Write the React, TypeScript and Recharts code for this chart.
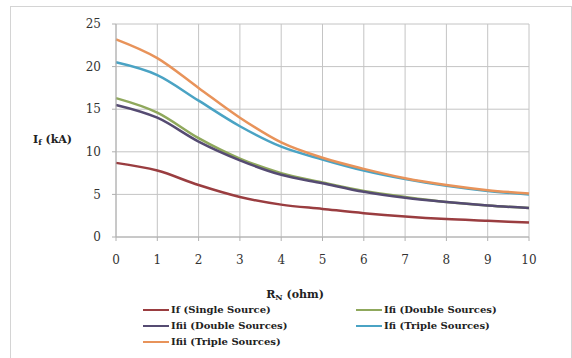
import { LineChart, Line, XAxis, YAxis, CartesianGrid } from 'recharts';

const resistance = [0, 1, 2, 3, 4, 5, 6, 7, 8, 9, 10];
const singleIf = [8.7, 7.8, 6.1, 4.7, 3.8, 3.3, 2.8, 2.4, 2.1, 1.9, 1.7];
const doubleIfi = [16.3, 14.6, 11.6, 9.2, 7.5, 6.4, 5.4, 4.7, 4.1, 3.7, 3.4];
const doubleIfii = [15.5, 14.0, 11.2, 9.0, 7.3, 6.3, 5.3, 4.6, 4.1, 3.7, 3.4];
const tripleIfi = [20.5, 19.0, 16.0, 13.0, 10.6, 9.1, 7.8, 6.8, 6.0, 5.4, 5.0];
const tripleIfii = [23.2, 21.0, 17.5, 14.0, 11.1, 9.3, 8.0, 6.9, 6.1, 5.5, 5.1];
const yTicks = [0, 5, 10, 15, 20, 25];

const series = [
  { key: 'If', name: 'If (Single Source)', values: singleIf, color: '#9a3d40' },
  { key: 'IfiD', name: 'Ifi (Double Sources)', values: doubleIfi, color: '#8fa85c' },
  { key: 'IfiiD', name: 'Ifii (Double Sources)', values: doubleIfii, color: '#554b72' },
  { key: 'IfiT', name: 'Ifi (Triple Sources)', values: tripleIfi, color: '#4aa3c4' },
  { key: 'IfiiT', name: 'Ifii (Triple Sources)', values: tripleIfii, color: '#e8935a' },
];

const data = resistance.map((r, i) => {
  const row: Record<string, number> = { r };
  series.forEach((s) => (row[s.key] = s.values[i]));
  return row;
});

// serif face like the Times of the original
const serif = 'DejaVu Serif';

const YLabel = (props: any) => {
  const { viewBox } = props;
  return (
    <text x={viewBox.x + 22} y={viewBox.y + 116} fontFamily={serif} fontWeight="bold" fontSize={11} fill="#222" dominantBaseline="middle">
      I<tspan fontSize={8} dy={3}>f</tspan>
      <tspan dy={-3}> (kA)</tspan>
    </text>
  );
};

const XLabel = (props: any) => {
  const { viewBox } = props;
  return (
    <text x={viewBox.x + 179} y={viewBox.y + 58} textAnchor="middle" fontFamily={serif} fontWeight="bold" fontSize={11} fill="#222" dominantBaseline="middle">
      R<tspan fontSize={8} dy={3}>N</tspan>
      <tspan dy={-3}> (ohm)</tspan>
    </text>
  );
};

const legendPos = [
  { left: 132, top: 297 },
  { left: 345, top: 297 },
  { left: 132, top: 313 },
  { left: 345, top: 313 },
  { left: 132, top: 329 },
];

const tickStyle = { fontFamily: serif, fontSize: 12, fill: '#333' };

export default function App() {
  return (
    <div
      style={{
        position: 'absolute',
        left: 10,
        top: 6,
        width: 560,
        height: 360,
        border: '1px solid #d4d4d4',
        background: '#fff',
      }}
    >
      <LineChart width={560} height={352} data={data} margin={{ top: 17, right: 42, bottom: 62, left: 0 }}>
        <CartesianGrid stroke="#c4c4c4" strokeWidth={1} />
        <XAxis
          dataKey="r"
          type="number"
          domain={[0, 10]}
          ticks={resistance}
          height={60}
          tickSize={4}
          tickMargin={14}
          axisLine={{ stroke: '#b0b0b0' }}
          tickLine={{ stroke: '#b0b0b0' }}
          tick={tickStyle}
          label={<XLabel />}
        />
        <YAxis
          domain={[0, 25]}
          ticks={yTicks}
          width={105}
          tickSize={4}
          tickMargin={11}
          axisLine={{ stroke: '#b0b0b0' }}
          tickLine={{ stroke: '#b0b0b0' }}
          tick={tickStyle}
          label={<YLabel />}
        />
        {series.map((s) => (
          <Line
            key={s.key}
            dataKey={s.key}
            name={s.name}
            type="monotone"
            stroke={s.color}
            strokeWidth={2.5}
            dot={false}
            isAnimationActive={false}
          />
        ))}
      </LineChart>
      {series.map((s, i) => (
        <div
          key={s.key}
          style={{
            position: 'absolute',
            left: legendPos[i].left,
            top: legendPos[i].top,
            display: 'flex',
            alignItems: 'center',
            fontFamily: serif,
            fontWeight: 'bold',
            fontSize: 10,
            lineHeight: '12px',
            color: '#222',
            whiteSpace: 'nowrap',
          }}
        >
          <span style={{ display: 'inline-block', width: 26, height: 2.5, background: s.color, marginRight: 2 }} />
          {s.name}
        </div>
      ))}
    </div>
  );
}
